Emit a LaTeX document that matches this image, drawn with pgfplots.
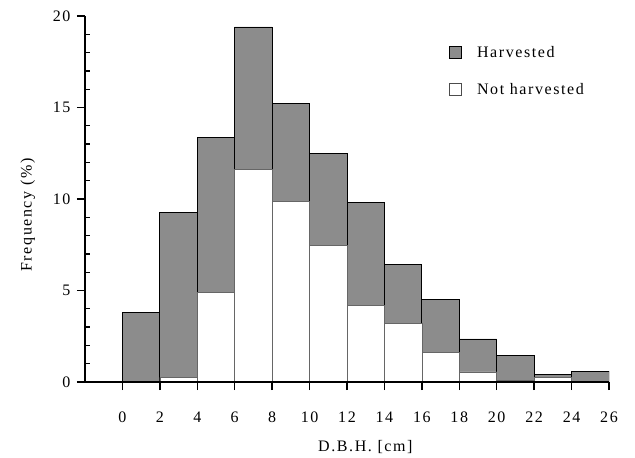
\documentclass[border=0pt]{standalone}
\usepackage{pgfplots}
\pgfplotsset{compat=1.18}
\usepackage{fontspec}
\setmainfont{Liberation Serif}[LetterSpace=10]
\begin{document}
\begin{tikzpicture}[font=\fontsize{16}{19}\selectfont]
\useasboundingbox (-85pt,-76pt) rectangle (550pt,382pt);
\begin{axis}[
  at={(0pt,0pt)}, anchor=south west,
  scale only axis, width=524pt, height=366pt,
  xmin=-2, xmax=26, ymin=0, ymax=20,
  axis lines*=left,
  axis on top,
  axis line style={line width=1.6pt},
  xtick={0,2,...,26}, ytick={0,5,...,20}, minor y tick num=4,
  tick align=outside, major tick length=8pt, minor tick length=-5pt,
  tick style={black, line width=1.3pt},
  /pgf/number format/assume math mode=true,
  xticklabel style={yshift=-18pt},
  yticklabel style={xshift=-3pt},
  xlabel={D.B.H. [cm]}, ylabel={Frequency (\%)},
  xlabel style={at={(axis description cs:0.535,-0.178)}, anchor=center},
  ylabel style={at={(axis description cs:-0.109,0.456)}, anchor=center},
  legend style={draw=none, fill=none, at={(axis description cs:0.689,0.923)}, anchor=north west, row sep=24pt, nodes={inner sep=0pt}},
  legend cell align=left,
]
\addplot[ybar interval, fill=black!45, draw=black, line width=0.8pt,
  legend image code/.code={\draw[fill=black!45,draw=black,line width=0.8pt] (0pt,-6pt) rectangle (12pt,6pt); \path (27pt,0pt);}]
  coordinates {(0,3.8)(2,9.25)(4,13.35)(6,19.4)(8,15.2)(10,12.5)(12,9.8)(14,6.4)(16,4.5)(18,2.35)(20,1.45)(22,0.4)(24,0.6)(26,0.6)};
\addplot[ybar interval, fill=white, draw=black!60, line width=0.5pt,
  legend image code/.code={\draw[fill=white,draw=black!70,line width=0.6pt] (0pt,-6pt) rectangle (12pt,6pt); \path (27pt,0pt);}]
  coordinates {(0,0)(2,0.25)(4,4.9)(6,11.6)(8,9.85)(10,7.45)(12,4.2)(14,3.2)(16,1.6)(18,0.55)(20,0.1)(22,0.25)(24,0)(26,0)};
\legend{Harvested, Not harvested}
\end{axis}
\end{tikzpicture}
\end{document}
